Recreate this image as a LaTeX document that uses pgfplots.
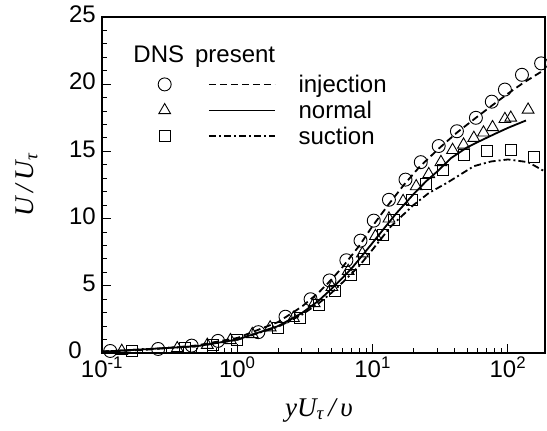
\documentclass[border=0pt]{standalone}
\usepackage{fontspec}
\setmainfont{Liberation Sans}
\newfontfamily\labfont{Liberation Serif}
\usepackage{pgfplots}
\pgfplotsset{compat=1.18}
\pgfplotsset{
  markleg/.style={legend image code/.code={\draw[##1] plot coordinates {(0pt,0pt)};}},
  lineleg/.style={legend image code/.code={\draw[##1, line width=1.4pt] (0pt,0pt) -- (66pt,0pt);}},
}
\pgfplotstableread{
x y
0.115 0.15
0.26 0.3
0.46 0.55
0.72 0.9
1.43 1.55
2.27 2.7
3.48 4.0
4.8 5.4
6.4 6.9
8.14 8.36
10.2 9.85
13.2 11.4
17.5 12.9
22.7 14.2
30.8 15.4
42 16.5
58 17.5
76 18.7
95 19.6
127 20.7
176 21.55
}\dnsinj
\pgfplotstableread{
x y
0.14 0.15
0.36 0.35
0.6 0.6
0.89 0.95
1.29 1.4
1.75 1.9
2.6 2.6
3.7 3.7
5.0 4.9
6.6 6.1
8.4 7.4
10.5 8.7
13.2 10.0
16.8 11.3
21 12.4
26 13.3
32 14.2
39 15.1
47 15.5
56 16.0
66 16.4
77 16.8
95 17.4
105 17.5
141 18.1
}\dnsnor
\pgfplotstableread{
x y
0.167 0.15
0.41 0.35
0.66 0.6
1.0 1.0
2.0 1.85
2.9 2.6
4.0 3.6
5.3 4.6
6.9 5.8
8.7 7.0
11.9 8.8
14.3 9.9
19.5 11.4
24.7 12.6
33 13.6
47 14.7
70 15.0
105 15.1
156 14.55
}\dnssuc
\pgfplotstableread{
x y
0.1 0.11
0.2 0.22
0.5 0.56
1 1.12
2 2.3
3 3.45
4 4.5
5 5.5
6 6.4
8 8.0
10 9.45
13 11.0
17 12.5
22 13.8
30 15.1
42 16.4
58 17.5
76 18.4
100 19.3
130 20.1
188 21.1
}\preinj
\pgfplotstableread{
x y
0.1 0.1
0.5 0.5
1 1
2 2
3 2.97
4 3.9
5 4.8
6 5.6
7 6.3
8 7.0
10 8.2
12 9.2
15 10.4
20 11.8
25 12.8
30 13.5
38 14.5
50 15.3
60 15.7
80 16.3
100 16.75
136 17.3
}\prenor
\pgfplotstableread{
x y
0.1 0.1
0.5 0.5
1 0.98
2 1.95
3 2.85
4 3.7
5 4.5
6 5.25
8 6.5
10 7.7
13.6 9.4
20 11.0
26 11.9
36 12.7
56 13.9
75 14.25
100 14.4
141 14.2
188 13.5
}\presuc
\begin{document}
\begin{tikzpicture}
\begin{axis}[
  at={(0pt,0pt)}, anchor=south west,
  scale only axis, width=443pt, height=336pt,
  xmode=log, xmin=0.1, xmax=188, ymin=0, ymax=25,
  axis line style={line width=1.5pt},
  every tick/.style={black, line width=1pt},
  major tick length=9pt, minor tick length=5pt,
  tick align=inside, tick pos=left,
  xtick={0.1,1,10,100},
  xticklabels={10\textsuperscript{-1},10\textsuperscript{0},10\textsuperscript{1},10\textsuperscript{2}},
  ytick={0,5,10,15,20,25},
  yticklabels={{0\rule{14pt}{0pt}},5,10,15,20,25},
  minor y tick num=4,
  /pgf/number format/assume math mode=true,
  ticklabel style={font=\fontsize{24}{26}\selectfont, inner sep=1pt},
  yticklabel style={xshift=-5pt, yshift=2.5pt},
  xticklabel style={yshift=-3pt},
  xlabel={\labfont\itshape yU\textsubscript{τ}\,/\,υ},
  ylabel={\labfont\itshape U\,/\,U\textsubscript{τ}},
  label style={font=\fontsize{27}{30}\selectfont},
  xlabel style={at={(axis description cs:0.49,-0.17)}, anchor=center},
  ylabel style={at={(axis description cs:-0.17,0.5)}, anchor=center},
  legend columns=2,
  legend cell align=left,
  legend style={draw=none, fill=none, font=\fontsize{24}{26}\selectfont,
    at={(axis description cs:0.1196,0.84)}, anchor=north west,
    /tikz/every odd column/.append style={column sep=21pt},
    /tikz/every even column/.append style={column sep=12pt},
    row sep=3pt},
]
\addplot[only marks, mark=o, mark size=6.5pt, mark options={line width=0.9pt}, markleg] table {\dnsinj};
\addlegendentry{}
\addplot[black, line width=1.8pt, dash pattern=on 7pt off 4pt, lineleg] table {\preinj};
\addlegendentry{injection}
\addplot[only marks, mark=triangle, mark size=6.8pt, mark options={line width=0.9pt}, markleg] table {\dnsnor};
\addlegendentry{}
\addplot[black, line width=1.8pt, lineleg] table {\prenor};
\addlegendentry{normal}
\addplot[only marks, mark=square, mark size=5.5pt, mark options={line width=0.9pt}, markleg] table {\dnssuc};
\addlegendentry{}
\addplot[black, line width=1.8pt, dash pattern=on 7pt off 3pt on 2pt off 3pt, lineleg] table {\presuc};
\addlegendentry{suction}
\node[anchor=base west, font=\fontsize{24}{26}\selectfont] at (axis description cs:0.063,0.866) {DNS\hspace{11pt}present};
\end{axis}
\pgfresetboundingbox
\useasboundingbox (-102pt,-78pt) rectangle (445pt,353pt);
\end{tikzpicture}
\end{document}
